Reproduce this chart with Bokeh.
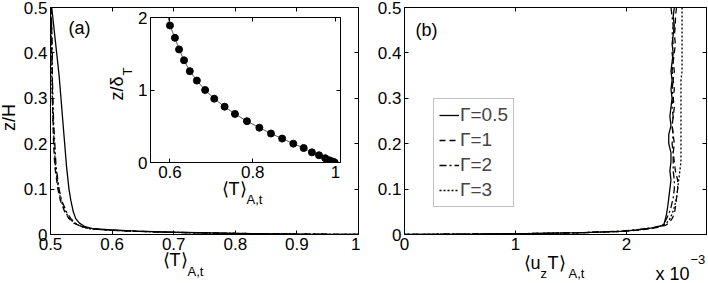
import math
from bokeh.plotting import figure
from bokeh.models import (Range1d, LinearAxis, Label, Legend, LegendItem,
                          FixedTicker, CustomJSTickFormatter, GridBox)
from bokeh.embed import file_html
from bokeh.resources import INLINE

FONT = "Liberation Sans"

# ---------------- data ----------------
# panel (a): mean temperature profiles vs z/H
z_main = [0.5, 0.45, 0.4, 0.35, 0.3, 0.25, 0.2, 0.15, 0.1, 0.075, 0.05, 0.035,
          0.025, 0.018, 0.013, 0.01, 0.0075, 0.005, 0.0025, 0.001, 0.0]
T_g05 = [0.502, 0.506, 0.510, 0.514, 0.517, 0.520, 0.523, 0.526, 0.530, 0.533, 0.537,
         0.541, 0.547, 0.555, 0.568, 0.600, 0.640, 0.700, 0.800, 0.900, 1.0]
T_g1 = [0.501, 0.502, 0.502, 0.503, 0.503, 0.504, 0.505, 0.507, 0.512, 0.516, 0.523,
        0.530, 0.538, 0.549, 0.563, 0.590, 0.630, 0.690, 0.790, 0.900, 1.0]
T_g2 = [0.501, 0.502, 0.503, 0.503, 0.504, 0.505, 0.507, 0.509, 0.514, 0.518, 0.526,
        0.533, 0.540, 0.550, 0.564, 0.590, 0.630, 0.690, 0.790, 0.900, 1.0]
T_g3 = [0.500, 0.501, 0.502, 0.502, 0.503, 0.504, 0.506, 0.508, 0.513, 0.517, 0.524,
        0.531, 0.539, 0.549, 0.563, 0.590, 0.630, 0.690, 0.790, 0.900, 1.0]

# inset: T vs z/delta_T
T_in = [0.600, 0.612, 0.622, 0.634, 0.648, 0.665, 0.685, 0.707, 0.732, 0.757, 0.786,
        0.816, 0.844, 0.871, 0.898, 0.923, 0.943, 0.960, 0.975, 0.985, 0.992, 0.998]
zd_in = [1.89, 1.72, 1.56, 1.41, 1.26, 1.13, 1.00, 0.88, 0.77, 0.67, 0.57,
         0.48, 0.40, 0.33, 0.26, 0.20, 0.14, 0.10, 0.06, 0.03, 0.015, 0.0]
T_in_line = [0.594] + T_in
zd_in_line = [2.05] + zd_in

# panel (b): convective flux <u_z T> (units of 1e-3) vs z/H
z_flux = [0.5, 0.48, 0.46, 0.44, 0.42, 0.4, 0.38, 0.36, 0.34, 0.32, 0.3, 0.28, 0.26,
          0.24, 0.22, 0.2, 0.18, 0.16, 0.14, 0.12, 0.1, 0.08, 0.06, 0.045, 0.035,
          0.025, 0.02, 0.015, 0.01, 0.007, 0.004, 0.002, 0.001, 0.0]
F_g05 = [2.43, 2.42, 2.43, 2.42, 2.41, 2.42, 2.41, 2.40, 2.41, 2.40, 2.41, 2.40, 2.39,
         2.40, 2.38, 2.38, 2.40, 2.40, 2.39, 2.40, 2.39, 2.38, 2.37, 2.36, 2.35,
         2.34, 2.33, 2.25, 2.10, 1.95, 1.60, 1.10, 0.60, 0.0]
F_g1 = [2.45, 2.44, 2.44, 2.43, 2.44, 2.43, 2.42, 2.43, 2.42, 2.43, 2.42, 2.43, 2.42,
        2.41, 2.42, 2.43, 2.42, 2.43, 2.44, 2.46, 2.46, 2.45, 2.44, 2.43, 2.41,
        2.38, 2.35, 2.27, 2.12, 1.97, 1.62, 1.12, 0.62, 0.0]
F_g2 = [2.40, 2.41, 2.42, 2.41, 2.42, 2.41, 2.42, 2.41, 2.42, 2.41, 2.42, 2.41, 2.42,
        2.41, 2.42, 2.41, 2.42, 2.42, 2.42, 2.43, 2.43, 2.42, 2.40, 2.38, 2.36,
        2.34, 2.32, 2.24, 2.08, 1.92, 1.58, 1.08, 0.58, 0.0]
F_g3 = [2.50, 2.50, 2.50, 2.50, 2.50, 2.50, 2.50, 2.50, 2.49, 2.49, 2.49, 2.49, 2.49,
        2.49, 2.49, 2.49, 2.49, 2.49, 2.48, 2.47, 2.46, 2.45, 2.43, 2.41, 2.39,
        2.36, 2.33, 2.25, 2.10, 1.95, 1.60, 1.10, 0.60, 0.0]

gamma_labels = ["\u0393=0.5", "\u0393=1", "\u0393=2", "\u0393=3"]
dashes = ["solid", "6 4", "7 3 2 3", "2 2"]

xt_a = [0.5, 0.6, 0.7, 0.8, 0.9, 1.0]
yt_ab = [0.0, 0.1, 0.2, 0.3, 0.4, 0.5]
xt_in = [0.6, 0.8, 1.0]
yt_in = [0, 1, 2]
xt_b = [0, 1, 2]

FMT = CustomJSTickFormatter(code="return String(Math.round(tick*1000)/1000);")
EMPTY = CustomJSTickFormatter(code="return '';")
TICK_FS = "17px"


def setup_axes(p, xt, yt):
    p.grid.visible = False
    p.outline_line_color = "black"
    p.outline_line_width = 1
    p.background_fill_color = "white"
    for ax in list(p.xaxis) + list(p.yaxis):
        ax.formatter = FMT
        ax.major_label_text_font = FONT
        ax.major_label_text_font_size = TICK_FS
        ax.major_label_text_color = "black"
        ax.major_label_standoff = 3
        ax.major_tick_in = 4
        ax.major_tick_out = 0
        ax.minor_tick_line_color = None
        ax.axis_line_color = "black"
        ax.major_tick_line_color = "black"
    p.xaxis.ticker = FixedTicker(ticks=xt)
    p.yaxis.ticker = FixedTicker(ticks=yt)
    # mirrored ticks on top / right (no labels)
    for loc, tk in (("above", xt), ("right", yt)):
        ax = LinearAxis(ticker=FixedTicker(ticks=tk), formatter=EMPTY,
                        major_label_text_font_size="1px", major_label_text_color=None,
                        major_label_standoff=0, major_tick_in=4, major_tick_out=0,
                        minor_tick_line_color=None, axis_line_color=None,
                        major_tick_line_color="black")
        p.add_layout(ax, loc)


# ---------------- panel (a) ----------------
pA = figure(frame_width=308, frame_height=227, output_backend="svg", toolbar_location=None,
            x_range=Range1d(0.5, 1.0), y_range=Range1d(0, 0.5), frame_align=False,
            min_border_left=50, min_border_right=2, min_border_top=7, min_border_bottom=49)
pA.border_fill_color = "white"
setup_axes(pA, xt_a, yt_ab)
for T, d in zip([T_g05, T_g1, T_g2, T_g3], dashes):
    pA.line(T, z_main, line_color="black", line_width=1.3, line_dash=d)

# ---------------- inset ----------------
pI = figure(frame_width=190, frame_height=145, output_backend="svg", toolbar_location=None,
            x_range=Range1d(0.553, 1.012), y_range=Range1d(0, 2), frame_align=False,
            min_border_left=55, min_border_right=10, min_border_top=17, min_border_bottom=48)
pI.border_fill_color = None
pI.border_fill_alpha = 0
setup_axes(pI, xt_in, yt_in)
pI.line(T_in_line, zd_in_line, line_color="#333333", line_width=0.8)
pI.scatter(T_in, zd_in, size=7, color="black")
pI.margin = (0, 0, 0, 95)
pI.align = "start"

# ---------------- panel (b) ----------------
pB = figure(frame_width=302, frame_height=227, output_backend="svg", toolbar_location=None,
            x_range=Range1d(0, 2.72), y_range=Range1d(0, 0.5), frame_align=False,
            min_border_left=44, min_border_right=2, min_border_top=7, min_border_bottom=49)
pB.border_fill_color = "white"
setup_axes(pB, xt_b, yt_ab)
items = []
for F, d, name in zip([F_g05, F_g1, F_g2, F_g3], dashes, gamma_labels):
    r = pB.line(F, z_flux, line_color="black", line_width=1.3, line_dash=d)
    items.append(LegendItem(label=name, renderers=[r]))
leg = Legend(items=items, location=(29, 27), label_text_font=FONT,
             label_text_font_size="19px", glyph_width=20, glyph_height=20,
             label_height=20, label_standoff=1, spacing=3, padding=5, margin=0,
             border_line_color="#888888", border_line_width=1,
             background_fill_color="white", background_fill_alpha=1)
pB.add_layout(leg)

# ---------------- text overlay (page pixel space, y from top) ----------------
pT = figure(width=708, height=283, output_backend="svg", toolbar_location=None,
            x_range=Range1d(0, 708), y_range=Range1d(283, 0), frame_align=False,
            x_axis_location=None, y_axis_location=None, min_border=0)
pT.grid.visible = False
pT.outline_line_color = None
pT.background_fill_alpha = 0
pT.border_fill_alpha = 0


def lab(text, x, y, size=18, align="left", baseline="middle", angle=0.0):
    pT.add_layout(Label(x=x, y=y, text=text, text_font=FONT,
                        text_font_size=f"{size}px", text_color="black",
                        text_align=align, text_baseline=baseline, angle=angle))


lab("z/H", 8, 117, align="center", angle=math.pi / 2)
lab("(a)", 68, 27)
lab("\u27e8T\u27e9", 187, 259, align="right")
lab("A,t", 187, 271, size=13)
lab("\u27e8T\u27e9", 246, 188, align="right")
lab("A,t", 246, 199, size=13)
lab("z/\u03b4", 116, 100, angle=math.pi / 2)
lab("T", 127, 75, size=13, angle=math.pi / 2)
lab("(b)", 415, 29)
lab("\u27e8u", 523, 262)
lab("z", 540, 273, size=13)
lab("T", 547, 262)
lab("\u27e9", 558, 262)
lab("A,t", 568, 273, size=13)
lab("x 10", 655, 273)
lab("\u22123", 690, 259, size=13)

root = GridBox(children=[(pA, 0, 0), (pI, 0, 0), (pB, 0, 1), (pT, 0, 0, 1, 2)],
               styles={"position": "absolute", "left": "0px", "top": "0px"})

open("out.html", "w").write(file_html(root, INLINE))
